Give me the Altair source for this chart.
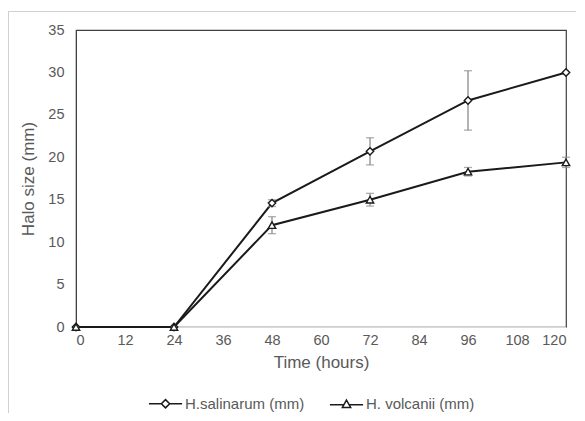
import altair as alt
import pandas as pd

hours = [0, 24, 48, 72, 96, 120]
sal_vals = [0, 0, 14.6, 20.7, 26.7, 30.0]
sal_err = [0, 0, 0.4, 1.6, 3.5, 0]
vol_vals = [0, 0, 12.0, 15.0, 18.3, 19.4]
vol_err = [0, 0, 1.0, 0.75, 0.5, 0.6]
series_names = ["H.salinarum (mm)", "H. volcanii (mm)"]
x_ticks = list(range(0, 121, 12))
y_ticks = list(range(0, 36, 5))

rows = []
for name, vals, errs in [(series_names[0], sal_vals, sal_err), (series_names[1], vol_vals, vol_err)]:
    for h, v, e in zip(hours, vals, errs):
        rows.append({"series": name, "hours": h, "size": v, "err": e, "lo": v - e, "hi": v + e})
df = pd.DataFrame(rows)
df_err = df[df["err"] > 0]

FONT = "Liberation Sans"
GRAY = "#595959"

x = alt.X("hours:Q", scale=alt.Scale(domain=[0, 120], nice=False),
          axis=alt.Axis(values=x_ticks, title="Time (hours)", ticks=False, grid=False,
                        domainColor="#d9d9d9", labelColor=GRAY, labelFontSize=14.5,
                        titleFontSize=17, titleColor=GRAY, titleFontWeight="normal",
                        labelPadding=6, titlePadding=8, labelFont=FONT, titleFont=FONT))
y = alt.Y("size:Q", scale=alt.Scale(domain=[0, 35], nice=False),
          axis=alt.Axis(values=y_ticks, title="Halo size (mm)", ticks=False, grid=False,
                        domainColor="#404040", labelColor=GRAY, labelFontSize=14.5,
                        titleFontSize=17, titleColor=GRAY, titleFontWeight="normal",
                        labelPadding=12, titlePadding=10, labelFont=FONT, titleFont=FONT))

base = alt.Chart(df)

lines = base.mark_line(color="#1a1a1a", strokeWidth=2).encode(
    x=x, y=y, detail="series:N")

err_rule = alt.Chart(df_err).mark_rule(color="#8c8c8c", strokeWidth=1.3).encode(
    x="hours:Q", y="lo:Q", y2="hi:Q")
err_lo = alt.Chart(df_err).mark_tick(color="#8c8c8c", thickness=1.3, size=8, orient="horizontal").encode(
    x="hours:Q", y="lo:Q")
err_hi = alt.Chart(df_err).mark_tick(color="#8c8c8c", thickness=1.3, size=8, orient="horizontal").encode(
    x="hours:Q", y="hi:Q")

points = base.mark_point(filled=True, fill="white", stroke="#1a1a1a", strokeWidth=1.4,
                         size=55, opacity=1).encode(
    x="hours:Q", y="size:Q",
    shape=alt.Shape("series:N", scale=alt.Scale(domain=series_names, range=["diamond", "triangle-up"]),
                    legend=None))

diamond_path = "M-1,0H-0.25M0.25,0H1M0,-0.25L0.25,0L0,0.25L-0.25,0Z"
tri_path = "M-1,0.06H-0.17M0.17,0.06H1M0,-0.22L0.25,0.22L-0.25,0.22Z"

legend_pts = base.transform_filter("false").mark_point(
    opacity=1, filled=False, color="#1a1a1a", strokeWidth=1.5).encode(
    x="hours:Q", y="size:Q",
    shape=alt.Shape("series:N", scale=alt.Scale(domain=series_names, range=[diamond_path, tri_path]),
                    legend=alt.Legend(title=None, orient="none", direction="horizontal",
                                      legendX=72, legendY=356,
                                      symbolSize=1100, symbolOpacity=1,
                                      symbolFillColor="white", symbolStrokeColor="#1a1a1a",
                                      symbolStrokeWidth=1.5, labelFont=FONT, labelFontSize=15,
                                      labelColor=GRAY, labelOffset=2, columnPadding=21)))

frame_top = alt.Chart(df).mark_rule(color="#d0d0d0", strokeWidth=1).encode(
    x=alt.value(-67.5), x2=alt.value(600), y=alt.value(-18.5))
frame_left = alt.Chart(df).mark_rule(color="#d0d0d0", strokeWidth=1).encode(
    x=alt.value(-67.5), y=alt.value(-18.5), y2=alt.value(420))

chart = alt.layer(frame_top, frame_left, lines, err_rule, err_lo, err_hi, points, legend_pts).resolve_scale(
    shape="independent"
).properties(
    width=490, height=297,
    autosize=alt.AutoSizeParams(type="none"),
    padding={"left": 68, "top": 22, "right": 10, "bottom": 86},
    background="white",
).configure_view(stroke="#404040", strokeWidth=1.2)

chart.save("out.html", embed_options={"renderer": "svg", "actions": False})
